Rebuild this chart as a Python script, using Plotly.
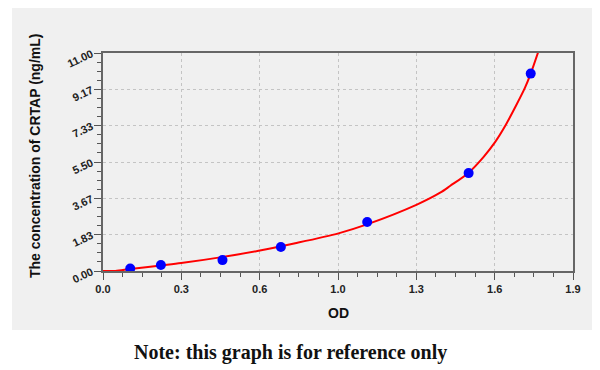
import plotly.graph_objects as go

# ---- data ----
od_points = [0.110, 0.234, 0.483, 0.719, 1.068, 1.478, 1.729]
conc_points = [0.12, 0.30, 0.55, 1.21, 2.47, 4.94, 9.96]

curve_od = [0.0, 0.05, 0.11, 0.234, 0.316, 0.48, 0.629, 0.777, 0.952, 1.067,
            1.269, 1.363, 1.404, 1.477, 1.538, 1.585, 1.625, 1.672, 1.706, 1.729, 1.762]
curve_conc = [0.0, 0.0, 0.10, 0.28, 0.40, 0.70, 1.02, 1.40, 1.90, 2.35,
              3.35, 3.95, 4.30, 4.95, 5.75, 6.50, 7.30, 8.40, 9.25, 9.96, 11.15]

x_tick_values = [0.0, 0.3167, 0.6333, 0.95, 1.2667, 1.5833, 1.9]
x_tick_labels = ["0.0", "0.3", "0.6", "1.0", "1.3", "1.6", "1.9"]
y_tick_values = [0.0, 1.8333, 3.6667, 5.5, 7.3333, 9.1667, 11.0]
y_tick_labels = ["0.00", "1.83", "3.67", "5.50", "7.33", "9.17", "11.00"]

x_title = "OD"
y_title = "The concentration of CRTAP (ng/mL)"
note = "Note: this graph is for reference only"

# the page body adds an 8px margin; lay out in page coordinates minus that
OFF = 8
W, H = 600 - OFF, 370 - OFF
L, T = 103 - OFF, 53 - OFF
R = W - (573 - OFF)
B = H - (271 - OFF)
pw, ph = W - L - R, H - T - B


def px_x(page_x):
    return (page_x - OFF - L) / pw


def px_y(page_y):
    return (T + ph - (page_y - OFF)) / ph


fig = go.Figure()
fig.add_trace(go.Scatter(x=curve_od, y=curve_conc, mode="lines",
                         line=dict(color="#ff0000", width=2, shape="spline", smoothing=0.8),
                         hoverinfo="skip", showlegend=False))
fig.add_trace(go.Scatter(x=od_points, y=conc_points, mode="markers",
                         marker=dict(color="#0000ff", size=10, line=dict(width=0)),
                         showlegend=False))

# gray panel behind the chart
fig.add_shape(type="rect", xref="paper", yref="paper",
              x0=px_x(12), x1=px_x(596), y0=px_y(330), y1=px_y(0),
              fillcolor="#f0f0f0", line=dict(width=0), layer="below")

axis_common = dict(
    showline=True, linecolor="#666666", linewidth=2, mirror=True,
    ticks="outside", ticklen=7, tickwidth=1, tickcolor="#555555",
    showgrid=True, gridcolor="#c4c4c4", griddash="dot", gridwidth=1,
    zeroline=False, layer="below traces",
    tickfont=dict(family="Liberation Sans, Arial, sans-serif", size=11, color="#222222", weight="bold"),
)

fig.update_xaxes(range=[0, 1.9], tickmode="array", tickvals=x_tick_values, ticktext=x_tick_labels,
                 minor=dict(tickmode="linear", tick0=0, dtick=1.9 / 24, ticks="outside", ticklen=4,
                            tickcolor="#555555", showgrid=False),
                 **axis_common)
fig.update_yaxes(range=[0, 11], tickmode="array", tickvals=y_tick_values, ticktext=y_tick_labels,
                 tickangle=-25,
                 minor=dict(tickmode="linear", tick0=0, dtick=11 / 24, ticks="outside", ticklen=4,
                            tickcolor="#555555", showgrid=False),
                 **axis_common)

title_font = dict(family="Liberation Sans, Arial, sans-serif", size=14, color="#111111", weight="bold")
fig.add_annotation(text=x_title, xref="paper", yref="paper", x=0.5, y=px_y(313),
                   xanchor="center", yanchor="middle", showarrow=False, font=title_font)
fig.add_annotation(text=y_title, xref="paper", yref="paper", x=px_x(35), y=px_y(156),
                   xanchor="center", yanchor="middle", textangle=-90,
                   showarrow=False, font=title_font)
fig.add_annotation(text=note, xref="paper", yref="paper", x=px_x(290), y=px_y(352),
                   xanchor="center", yanchor="middle", showarrow=False,
                   font=dict(family="Liberation Serif, Times New Roman, serif", size=20,
                             color="#111111", weight="bold"))

fig.update_layout(width=W, height=H, margin=dict(l=L, r=R, t=T, b=B, pad=0),
                  paper_bgcolor="#ffffff", plot_bgcolor="#ffffff", showlegend=False)

fig.write_html("out.html")
